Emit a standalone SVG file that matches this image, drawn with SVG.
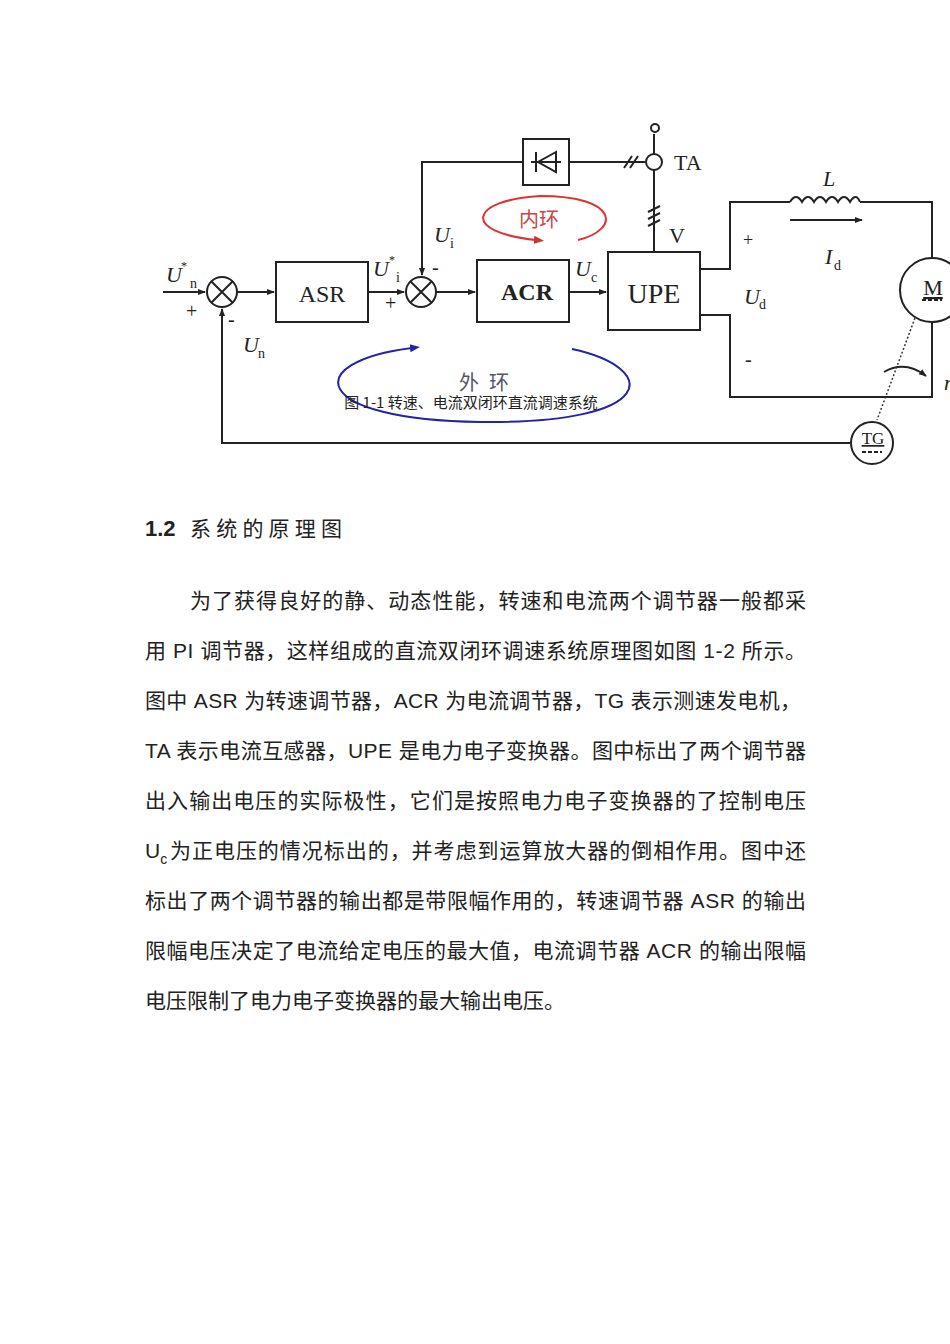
<svg xmlns="http://www.w3.org/2000/svg" width="950" height="1344" viewBox="0 0 950 1344">
<style>
.l{stroke:#222;stroke-width:2;fill:none}
.b{stroke:#222;stroke-width:2;fill:#fff}
.t{font-family:"Liberation Serif",serif;fill:#222}
.i{font-family:"Liberation Serif",serif;font-style:italic;fill:#222}
.p{font-family:"Liberation Sans","Noto Sans CJK SC",sans-serif;font-size:21px;fill:#222}
</style>
<defs>
<marker id="a" markerWidth="8" markerHeight="8" refX="7" refY="4" orient="auto" markerUnits="userSpaceOnUse"><path d="M0,1 L8,4 L0,7z" fill="#222"/></marker>
<marker id="ar" markerWidth="10" markerHeight="10" refX="2" refY="5" orient="auto-start-reverse" markerUnits="userSpaceOnUse"><path d="M0,1 L10,5 L0,9z" fill="#c33"/></marker>
<marker id="ab" markerWidth="10" markerHeight="10" refX="2" refY="5" orient="auto-start-reverse" markerUnits="userSpaceOnUse"><path d="M0,1 L10,5 L0,9z" fill="#22a"/></marker>
</defs>
<g id="connectors">
<path class="l" d="M163,292 H205" marker-end="url(#a)"/>
<path class="l" d="M237,292 H274" marker-end="url(#a)"/>
<path class="l" d="M368,292 H404" marker-end="url(#a)"/>
<path class="l" d="M436,292 H475" marker-end="url(#a)"/>
<path class="l" d="M569,292 H606" marker-end="url(#a)"/>
<path class="l" d="M523,162 H422 V275" marker-end="url(#a)"/>
<path class="l" d="M569,162 H645"/>
<path class="l" d="M624,168 L632,156 M630,168 L638,156"/>
<path class="l" d="M654,134 V252"/>
<path class="l" d="M648,212 L660,206 M648,219 L660,213 M648,226 L660,220"/>
<path class="l" d="M870,443 H222 V309" marker-end="url(#a)"/>
<path class="l" d="M700,269 H730 V202 H790 M860,202 H932 V258 M932,322 V397 H730 V315 H700"/>
<path class="l" d="M790,202 q6,-10 12,0 q6,-10 12,0 q6,-10 12,0 q6,-10 12,0 q6,-10 12,0 q6,-10 10,0"/>
<path class="l" d="M790,220 H862" marker-end="url(#a)"/>
<path class="l" d="M884,372 Q905,360 926,376" marker-end="url(#a)"/>
<path d="M915,318 L877,420" stroke="#333" stroke-width="1.5" stroke-dasharray="2,2" fill="none"/>
<path d="M536,240 C460,232 470,200 540,196 C620,196 620,230 578,240" stroke="#d33" stroke-width="2" fill="none" marker-start="url(#ar)"/>
<path d="M412,348 C300,362 310,420 480,422 C660,424 660,368 572,349" stroke="#22a" stroke-width="2" fill="none" marker-start="url(#ab)"/>
</g>
<g id="sum1"><circle class="b" cx="222" cy="292" r="15"/><path class="l" d="M211,281 L233,303 M233,281 L211,303"/></g>
<g id="sum2"><circle class="b" cx="421" cy="292" r="15"/><path class="l" d="M410,281 L432,303 M432,281 L410,303"/></g>
<g id="ASR"><rect class="b" x="276" y="262" width="92" height="60"/><text class="t" x="322" y="302" font-size="24" text-anchor="middle">ASR</text></g>
<g id="ACR"><rect class="b" x="477" y="260" width="92" height="62"/><text class="t" x="527" y="300" font-size="24" font-weight="bold" text-anchor="middle" fill="#334">ACR</text></g>
<g id="UPE"><rect class="b" x="608" y="252" width="92" height="78"/><text class="t" x="654" y="303" font-size="28" text-anchor="middle">UPE</text></g>
<g id="diode"><rect class="b" x="523" y="139" width="46" height="46"/><path class="l" d="M531,162 H561 M536,152 V172"/><path d="M556,152 L538,162 L556,172z" fill="none" stroke="#222" stroke-width="2"/></g>
<g id="TA"><circle class="b" cx="654" cy="162" r="8"/><circle class="b" cx="655" cy="128" r="4"/><text class="t" x="674" y="170" font-size="22">TA</text><text class="t" x="669" y="243" font-size="22">V</text></g>
<g id="M"><circle class="b" cx="932" cy="290" r="32"/><text class="t" x="933" y="295" font-size="22" text-anchor="middle" text-decoration="underline">M</text><path class="l" d="M922,300 h20" stroke-dasharray="4,2" stroke-width="1.5"/></g>
<g id="TG"><circle class="b" cx="872" cy="443" r="21"/><text class="t" x="873" y="444" font-size="17" text-anchor="middle" text-decoration="underline">TG</text><path class="l" d="M862,452 h20" stroke-dasharray="4,2" stroke-width="1.5"/></g>
<g id="labels">
<text class="i" x="166" y="282" font-size="22">U</text><text class="t" x="181" y="270" font-size="12">*</text><text class="t" x="190" y="288" font-size="14">n</text>
<text class="t" x="186" y="318" font-size="20">+</text>
<text class="t" x="228" y="326" font-size="20">-</text>
<text class="i" x="243" y="352" font-size="22">U</text><text class="t" x="258" y="358" font-size="14">n</text>
<text class="i" x="373" y="276" font-size="22">U</text><text class="t" x="389" y="264" font-size="12">*</text><text class="t" x="396" y="282" font-size="14">i</text>
<text class="t" x="385" y="310" font-size="20">+</text>
<text class="t" x="432" y="274" font-size="20">-</text>
<text class="i" x="434" y="242" font-size="22">U</text><text class="t" x="450" y="248" font-size="14">i</text>
<text class="i" x="575" y="276" font-size="22">U</text><text class="t" x="591" y="282" font-size="14">c</text>
<text x="519" y="227" font-size="20" fill="#c44" font-family="'Noto Sans CJK SC',sans-serif">内环</text>
<text x="459" y="390" font-size="20" fill="#556" font-family="'Noto Sans CJK SC',sans-serif" letter-spacing="10">外环</text>
<text class="t" x="743" y="246" font-size="18">+</text>
<text class="t" x="745" y="366" font-size="20">-</text>
<text class="i" x="744" y="304" font-size="22">U</text><text class="t" x="759" y="309" font-size="14">d</text>
<text class="i" x="825" y="264" font-size="22">I</text><text class="t" x="834" y="270" font-size="14">d</text>
<text class="i" x="823" y="186" font-size="22">L</text>
<text class="i" x="944" y="390" font-size="22">n</text>
<text x="471" y="408" font-size="15" text-anchor="middle" font-family="'Noto Sans CJK SC',sans-serif" fill="#222">图 1-1  转速、电流双闭环直流调速系统</text>
</g>
<g id="text">
<text class="p" x="145" y="536" font-size="24"><tspan font-weight="bold" font-size="22">1.2</tspan><tspan x="190" textLength="152">系统的原理图</tspan></text>
<text class="p" x="190" y="608" textLength="616">为了获得良好的静、动态性能，转速和电流两个调节器一般都采</text>
<text class="p" x="145" y="658" textLength="661">用 PI 调节器，这样组成的直流双闭环调速系统原理图如图 1-2 所示。</text>
<text class="p" x="145" y="708" textLength="656">图中 ASR 为转速调节器，ACR 为电流调节器，TG 表示测速发电机，</text>
<text class="p" x="145" y="758" textLength="661">TA 表示电流互感器，UPE 是电力电子变换器。图中标出了两个调节器</text>
<text class="p" x="145" y="808" textLength="661">出入输出电压的实际极性，它们是按照电力电子变换器的了控制电压</text>
<text class="p" x="145" y="858">U<tspan font-size="14" dy="6">c</tspan><tspan dy="-6" x="170" textLength="636">为正电压的情况标出的，并考虑到运算放大器的倒相作用。图中还</tspan></text>
<text class="p" x="145" y="908" textLength="661">标出了两个调节器的输出都是带限幅作用的，转速调节器 ASR 的输出</text>
<text class="p" x="145" y="958" textLength="661">限幅电压决定了电流给定电压的最大值，电流调节器 ACR 的输出限幅</text>
<text class="p" x="145" y="1008">电压限制了电力电子变换器的最大输出电压。</text>
</g>
</svg>
